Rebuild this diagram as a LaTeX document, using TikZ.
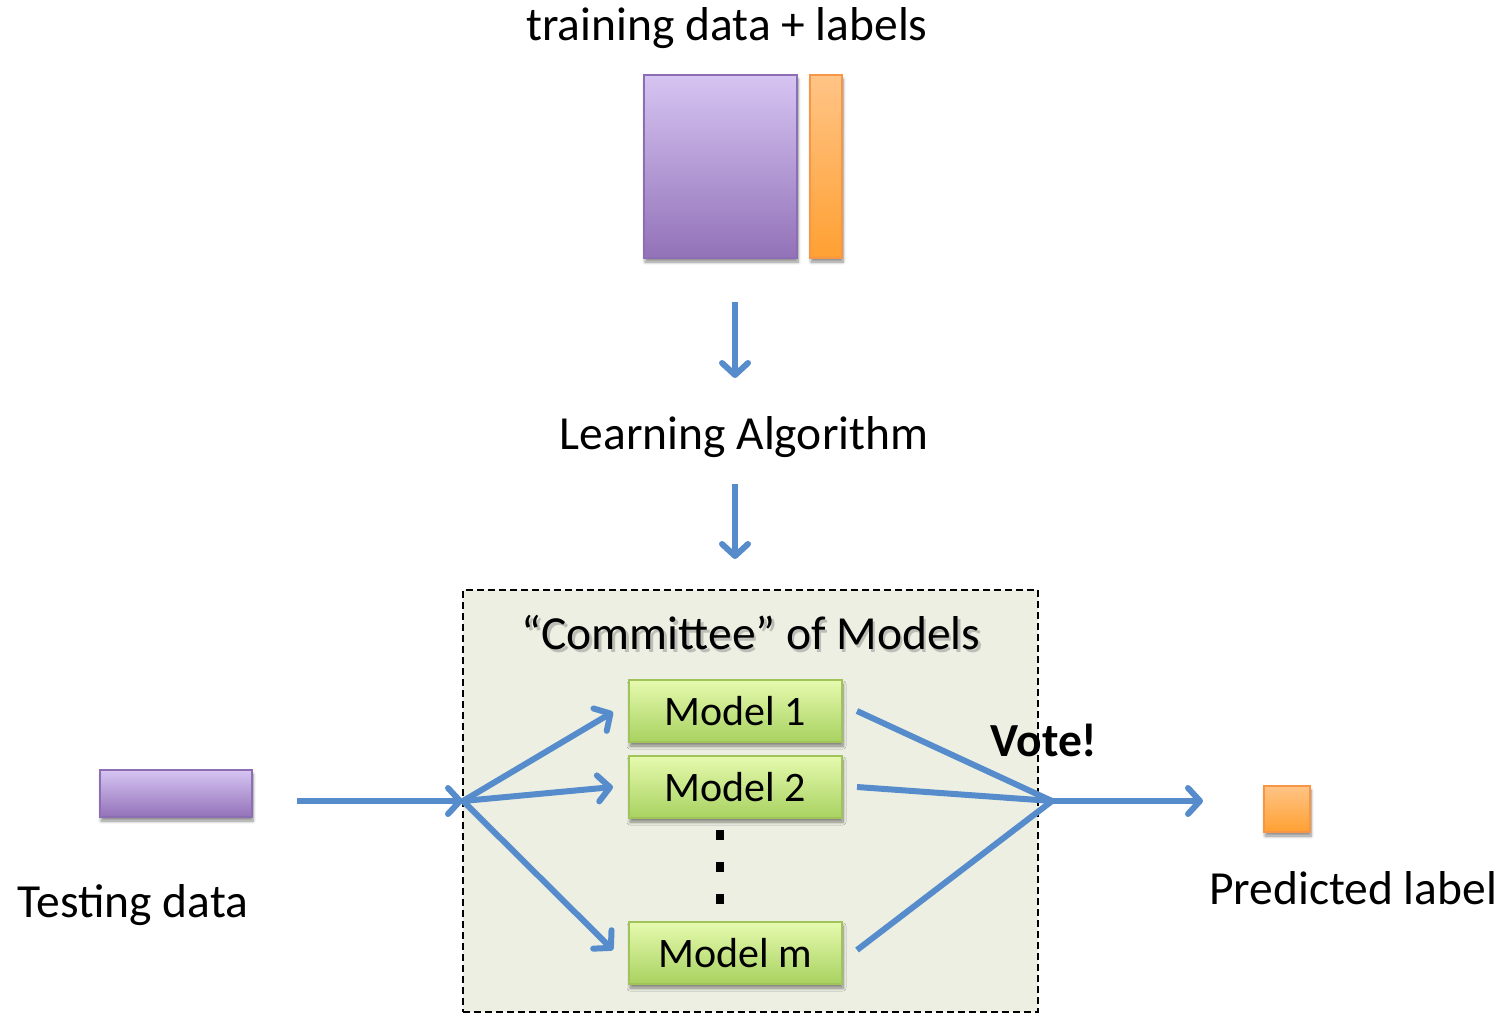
\documentclass[tikz,border=0pt]{standalone}
\usepackage{fontspec}
\setmainfont{Carlito}
\usetikzlibrary{arrows.meta,shadows,shadows.blur,positioning}
\definecolor{flow}{RGB}{86,140,204}
\definecolor{purpTop}{RGB}{214,196,242}
\definecolor{purpBot}{RGB}{146,114,184}
\definecolor{purpLine}{RGB}{140,110,180}
\definecolor{orgTop}{RGB}{255,196,134}
\definecolor{orgBot}{RGB}{255,160,50}
\definecolor{orgLine}{RGB}{247,150,70}
\definecolor{grnTop}{RGB}{230,250,175}
\definecolor{grnBot}{RGB}{168,210,96}
\definecolor{grnLine}{RGB}{160,195,90}
\definecolor{panel}{RGB}{236,239,226}
\tikzset{
  x=1pt, y=-1pt,
  bar/.style={inner sep=0pt, line width=1.5pt,
    blur shadow={shadow xshift=1pt, shadow yshift=-4pt, shadow blur steps=8,
      shadow blur radius=3pt, shadow opacity=45}},
  purplebar/.style={bar, draw=purpLine, top color=purpTop, bottom color=purpBot},
  orangebar/.style={bar, draw=orgLine, top color=orgTop, bottom color=orgBot},
  modelbox/.style={bar, draw=grnLine, top color=grnTop, bottom color=grnBot,
    minimum width=213pt, minimum height=62pt, font=\fontsize{42}{46}\selectfont},
  label/.style={font=\fontsize{47.5}{52}\selectfont, inner sep=0pt},
  flowarrow/.style={draw=flow, line width=6pt,
    -{Straight Barb[length=12pt, width=26pt, round, line width=6pt]}},
  flowline/.style={draw=flow, line width=6pt},
}
\begin{document}
\begin{tikzpicture}
\useasboundingbox (0,0) rectangle (1506,1014);

% training set and its labels
\node[label] (trainlbl) at (727,28) {training data + labels};
\node[purplebar, minimum width=153pt, minimum height=183pt] (train) at (720.5,166.5) {};
\node[orangebar, minimum width=32pt, minimum height=183pt] (labels) at (826,166.5) {};

\coordinate (a1s) at (735,302);
\coordinate (a1e) at (735,378);
\draw[flowarrow] (a1s) -- (a1e);

\node[label] (learn) at (744,437) {Learning Algorithm};

\coordinate (a2s) at (735,484);
\coordinate (a2e) at (735,559);
\draw[flowarrow] (a2s) -- (a2e);

% committee panel
\node[draw=black, dash pattern=on 7pt off 4pt, line width=1.8pt, fill=panel,
  minimum width=575pt, minimum height=422pt, inner sep=0pt] (panel) at (750.5,801) {};
\node[label, text=black!45, opacity=0.5] (ctitleshadow) at (753.5,636) {``Committee'' of Models};
\node[label] (ctitle) at (751,633) {``Committee'' of Models};

\node[modelbox] (m1) at (735.5,711) {Model 1};
\node[modelbox] (m2) at (735.5,787) {Model 2};
\node[modelbox] (mm) at (735.5,953) {Model m};
\foreach \yy [count=\i] in {835,867,899}
  \fill (716,\yy-5) rectangle (724,\yy+5);

% testing data
\node[purplebar, minimum width=152pt, minimum height=47pt] (test) at (176,793.5) {};
\node[label] (testlbl) at (133,905) {Testing data};

\coordinate (tin) at (297,801);
\coordinate (split) at (463,801);
\coordinate (join) at (1052,801);
\coordinate (m1in) at (613,712);
\coordinate (m2in) at (613,787);
\coordinate (mmin) at (613,950);
\coordinate (m1out) at (857,711);
\coordinate (m2out) at (857,787);
\coordinate (mmout) at (857,950);
\coordinate (pout) at (1203,801);

\draw[flowarrow] (tin) -- (split);
\draw[flowarrow] (split) -- (m1in);
\draw[flowarrow] (split) -- (m2in);
\draw[flowarrow] (split) -- (mmin);
\draw[flowline] (m1out) -- (join);
\draw[flowline] (m2out) -- (join);
\draw[flowline] (mmout) -- (join);
\draw[flowarrow] (join) -- (pout);

\node[label, font=\fontsize{47.5}{52}\selectfont\bfseries] (vote) at (1044,740) {Vote!};

% prediction
\node[orangebar, minimum width=46pt, minimum height=46pt] (pred) at (1287,809) {};
\node[label] (predlbl) at (1353,888) {Predicted label};
\end{tikzpicture}
\end{document}
